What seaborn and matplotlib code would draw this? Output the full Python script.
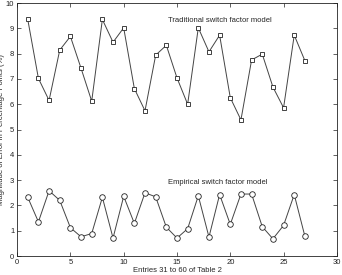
import numpy as np
import pandas as pd
import matplotlib
matplotlib.use("Agg")
import matplotlib.pyplot as plt
import seaborn as sns

entries = list(range(1, 28))
traditional = [9.35, 7.02, 6.15, 8.14, 8.68, 7.42, 6.12, 9.35, 8.45, 9.02,
               6.62, 5.74, 7.94, 8.33, 7.04, 6.0, 9.02, 8.07, 8.73, 6.26,
               5.38, 7.75, 7.98, 6.68, 5.86, 8.73, 7.72]
empirical = [2.32, 1.35, 2.58, 2.2, 1.12, 0.76, 0.89, 2.32, 0.71, 2.36,
             1.29, 2.5, 2.34, 1.14, 0.71, 1.08, 2.38, 0.75, 2.43, 1.25,
             2.45, 2.45, 1.16, 0.68, 1.21, 2.43, 0.78]
labels = ["Traditional switch factor model", "Empirical switch factor model"]

sns.set_style("ticks")
plt.rcParams['font.family'] = ['Liberation Sans', 'DejaVu Sans']

fig = plt.figure(figsize=(3.42, 2.75), dpi=100)
ax = fig.add_axes([0.05, 0.069, 0.935, 0.92])

df_t = pd.DataFrame({"x": entries, "y": traditional})
df_e = pd.DataFrame({"x": entries, "y": empirical})
sns.lineplot(data=df_t, x="x", y="y", ax=ax, color="#444444", lw=0.7,
             marker="s", markersize=3.5, markerfacecolor="white",
             markeredgecolor="#222222", markeredgewidth=0.6)
sns.lineplot(data=df_e, x="x", y="y", ax=ax, color="#444444", lw=0.7,
             marker="o", markersize=4, markerfacecolor="white",
             markeredgecolor="#222222", markeredgewidth=0.6)

ax.set_xlim(0, 30)
ax.set_ylim(0, 10)
ax.set_xticks(range(0, 31, 5))
ax.set_yticks(range(0, 11))
ax.tick_params(direction="in", top=True, right=True, labelsize=5.5,
               length=3, width=0.5, pad=2, colors="#222222")
for s in ax.spines.values():
    s.set_linewidth(0.6)
    s.set_color("#222222")

ax.text(14.15, 9.3, labels[0], fontsize=5.5, va="center", ha="left")
ax.text(14.2, 2.9, labels[1], fontsize=5.5, va="center", ha="left")

ax.set_xlabel("Entries 31 to 60 of Table 2", fontsize=5.5, labelpad=1)
ax.set_ylabel("Magnitude of Error in Percentage Points (%)", fontsize=5.5, labelpad=1)

fig.savefig("out.png", dpi=100)
